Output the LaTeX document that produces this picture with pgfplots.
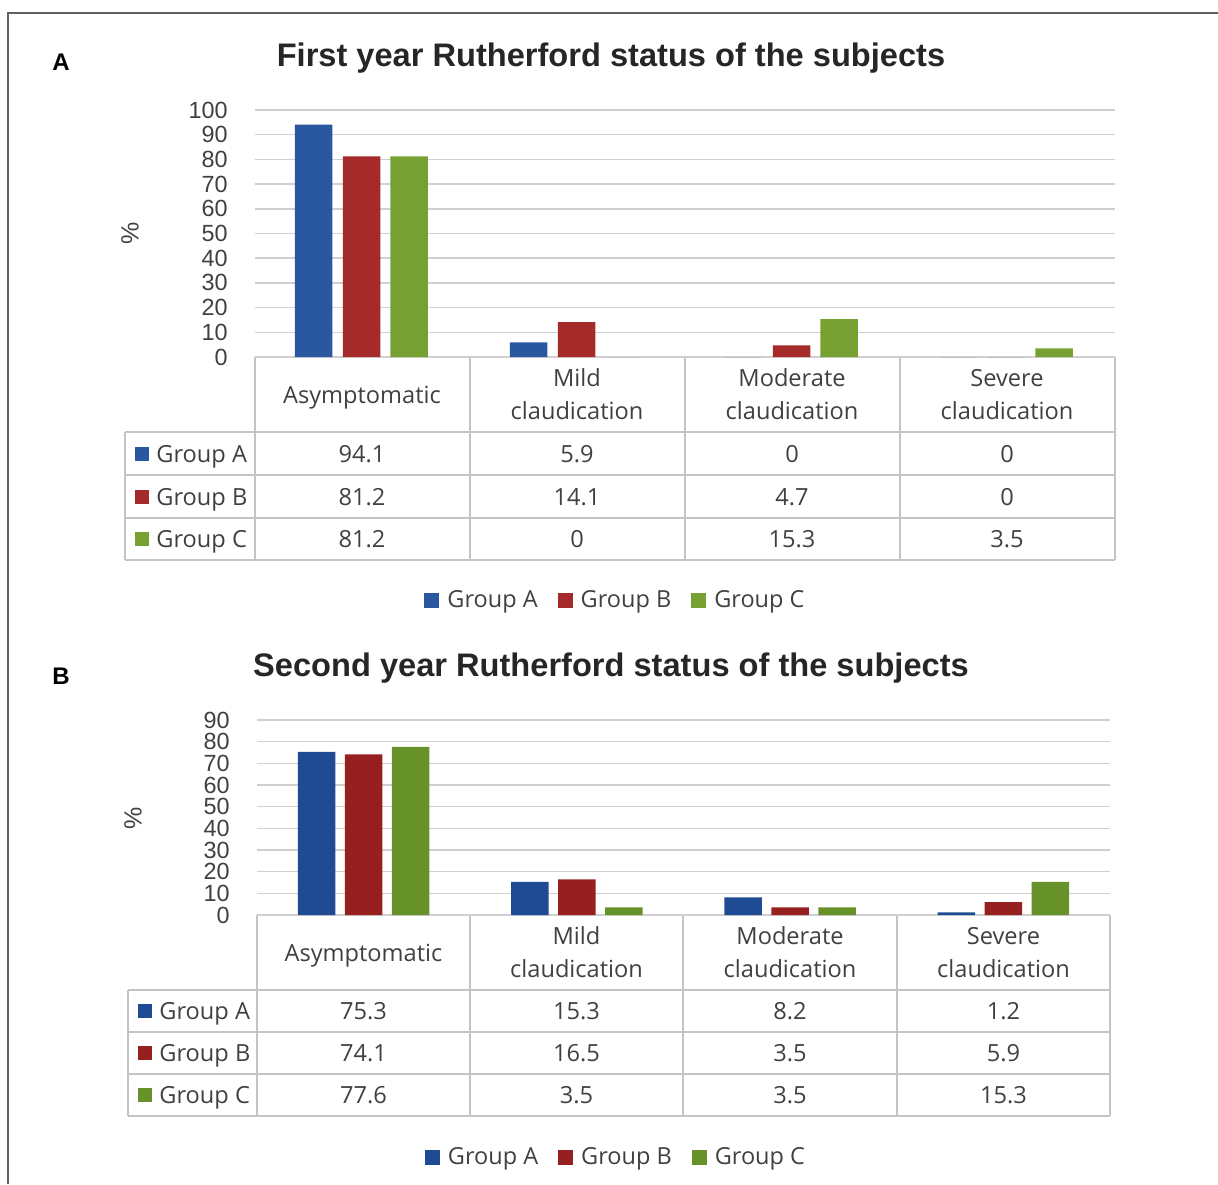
\documentclass[border=0pt]{standalone}
\usepackage{pgfplots}
\pgfplotsset{compat=1.18}
\usepackage{fontspec}
\setmainfont{Open Sans}
\newfontfamily\arialf{Liberation Sans}
\definecolor{txt}{HTML}{404040}
\definecolor{ttl}{HTML}{262626}
\definecolor{gridc}{HTML}{D0D0D0}
\definecolor{tabc}{HTML}{C4C4C4}
\definecolor{framec}{HTML}{606060}
\definecolor{blueA}{HTML}{2A58A0}
\definecolor{redA}{HTML}{A52A2A}
\definecolor{greenA}{HTML}{76A032}
\definecolor{blueB}{HTML}{1F4B94}
\definecolor{redB}{HTML}{961F1F}
\definecolor{greenB}{HTML}{67922A}

\pgfplotsset{
  rstyle/.style={
    scale only axis,
    axis line style={draw=none},
    ybar=4.75pt,
    bar width=18.75pt,
    xmin=-0.5, xmax=3.5,
    ymin=0,
    xtick=\empty,
    ymajorgrids,
    grid style={gridc, line width=0.75pt},
    major tick length=0pt,
    yticklabel style={font=\arialf\fontsize{11.7}{12}\selectfont, text=txt, anchor=east, inner sep=0pt, xshift=-13.5pt},
    /pgf/number format/assume math mode=true,
    legend style={draw=none, fill=none, legend columns=3, font=\fontsize{11.75}{14}\selectfont, text=txt,
      /tikz/every odd column/.append style={column sep=2pt},
      /tikz/every even column/.append style={column sep=8pt}},
    legend image code/.code={\fill[##1] (0pt,-3.75pt) rectangle (7.5pt,3.75pt);},
    clip=false,
  },
}
\tikzset{cell/.style={anchor=base, inner sep=0pt, text=txt, font=\fontsize{11.8}{14}\selectfont}}

\begin{document}
\begin{tikzpicture}
\begin{scope}[x=0.5pt,y=-0.5pt]
\useasboundingbox (0,0) rectangle (1218,1184);
\draw[framec, line width=0.75pt] (8,1184) -- (8,13) -- (1218,13);
% ---------- Panel A ----------
\node[font=\arialf\bfseries\fontsize{12}{12}\selectfont, text=black] at (61,62) {A};
\node[font=\arialf\bfseries\fontsize{16.3}{18}\selectfont, text=ttl] at (611,58) {First year Rutherford status of the subjects};
\node[font=\arialf\fontsize{12.5}{14}\selectfont, text=txt, rotate=90] at (130,233) {\%};
\coordinate (axA) at (255,357);
\draw[tabc, line width=0.75pt]
  (255,357) -- (1115,357)
  (125,432) -- (1115,432) (125,475) -- (1115,475) (125,518) -- (1115,518) (125,560) -- (1115,560)
  (125,432) -- (125,560) (255,357) -- (255,560) (470,357) -- (470,560)
  (685,357) -- (685,560) (900,357) -- (900,560) (1115,357) -- (1115,560);
\node[cell] at (362,403) {Asymptomatic};
\node[cell] at (577,386.5) {Mild};
\node[cell] at (577,419.5) {claudication};
\node[cell] at (792,386.5) {Moderate};
\node[cell] at (792,419.5) {claudication};
\node[cell] at (1007,386.5) {Severe};
\node[cell] at (1007,419.5) {claudication};
\fill[blueA] (135,446.5) rectangle (149,460.5);
\fill[redA] (135,489.5) rectangle (149,503.5);
\fill[greenA] (135,532) rectangle (149,546);
\node[cell, anchor=base west] at (156,462) {Group A};
\node[cell, anchor=base west] at (156,505) {Group B};
\node[cell, anchor=base west] at (156,547.5) {Group C};
\node[cell] at (362,462) {94.1};
\node[cell] at (577,462) {5.9};
\node[cell] at (792,462) {0};
\node[cell] at (1007,462) {0};
\node[cell] at (362,505) {81.2};
\node[cell] at (577,505) {14.1};
\node[cell] at (792,505) {4.7};
\node[cell] at (1007,505) {0};
\node[cell] at (362,547.5) {81.2};
\node[cell] at (577,547.5) {0};
\node[cell] at (792,547.5) {15.3};
\node[cell] at (1007,547.5) {3.5};
% ---------- Panel B ----------
\node[font=\arialf\bfseries\fontsize{12}{12}\selectfont, text=black] at (61,676) {B};
\node[font=\arialf\bfseries\fontsize{16.3}{18}\selectfont, text=ttl] at (611,668) {Second year Rutherford status of the subjects};
\node[font=\arialf\fontsize{12.5}{14}\selectfont, text=txt, rotate=90] at (133,818) {\%};
\coordinate (axB) at (257,915);
\draw[tabc, line width=0.75pt]
  (257,915) -- (1110,915)
  (128,990) -- (1110,990) (128,1032) -- (1110,1032) (128,1074) -- (1110,1074) (128,1116) -- (1110,1116)
  (128,990) -- (128,1116) (257,915) -- (257,1116) (470,915) -- (470,1116)
  (683,915) -- (683,1116) (897,915) -- (897,1116) (1110,915) -- (1110,1116);
\node[cell] at (363.5,961) {Asymptomatic};
\node[cell] at (576.5,944.5) {Mild};
\node[cell] at (576.5,977.5) {claudication};
\node[cell] at (790,944.5) {Moderate};
\node[cell] at (790,977.5) {claudication};
\node[cell] at (1003.5,944.5) {Severe};
\node[cell] at (1003.5,977.5) {claudication};
\fill[blueB] (138,1004) rectangle (152,1018);
\fill[redB] (138,1046) rectangle (152,1060);
\fill[greenB] (138,1088) rectangle (152,1102);
\node[cell, anchor=base west] at (159,1019.5) {Group A};
\node[cell, anchor=base west] at (159,1061.5) {Group B};
\node[cell, anchor=base west] at (159,1103.5) {Group C};
\node[cell] at (363.5,1019.5) {75.3};
\node[cell] at (576.5,1019.5) {15.3};
\node[cell] at (790,1019.5) {8.2};
\node[cell] at (1003.5,1019.5) {1.2};
\node[cell] at (363.5,1061.5) {74.1};
\node[cell] at (576.5,1061.5) {16.5};
\node[cell] at (790,1061.5) {3.5};
\node[cell] at (1003.5,1061.5) {5.9};
\node[cell] at (363.5,1103.5) {77.6};
\node[cell] at (576.5,1103.5) {3.5};
\node[cell] at (790,1103.5) {3.5};
\node[cell] at (1003.5,1103.5) {15.3};
\end{scope}

\begin{axis}[rstyle, at={(axA)}, anchor=south west,
  width=430pt, height=123.5pt, ymax=100, ytick={0,10,...,100},
  legend style={at={(0.4203,-0.984)}, anchor=center}]
\addplot[fill=blueA, draw=none, bar shift=-24.5pt] coordinates {(0,94.1) (1,5.9) (2,0) (3,0)};
\addplot[fill=redA, draw=none, bar shift=-0.5pt] coordinates {(0,81.2) (1,14.1) (2,4.7) (3,0)};
\addplot[fill=greenA, draw=none, bar shift=23.25pt] coordinates {(0,81.2) (1,0) (2,15.3) (3,3.5)};
\legend{Group A, Group B, Group C}
\end{axis}

\begin{axis}[rstyle, at={(axB)}, anchor=south west,
  width=426.5pt, height=97.5pt, ymax=90, ytick={0,10,...,90},
  legend style={at={(0.422,-1.241)}, anchor=center}]
\addplot[fill=blueB, draw=none] coordinates {(0,75.3) (1,15.3) (2,8.2) (3,1.2)};
\addplot[fill=redB, draw=none] coordinates {(0,74.1) (1,16.5) (2,3.5) (3,5.9)};
\addplot[fill=greenB, draw=none] coordinates {(0,77.6) (1,3.5) (2,3.5) (3,15.3)};
\legend{Group A, Group B, Group C}
\end{axis}
\end{tikzpicture}
\end{document}
